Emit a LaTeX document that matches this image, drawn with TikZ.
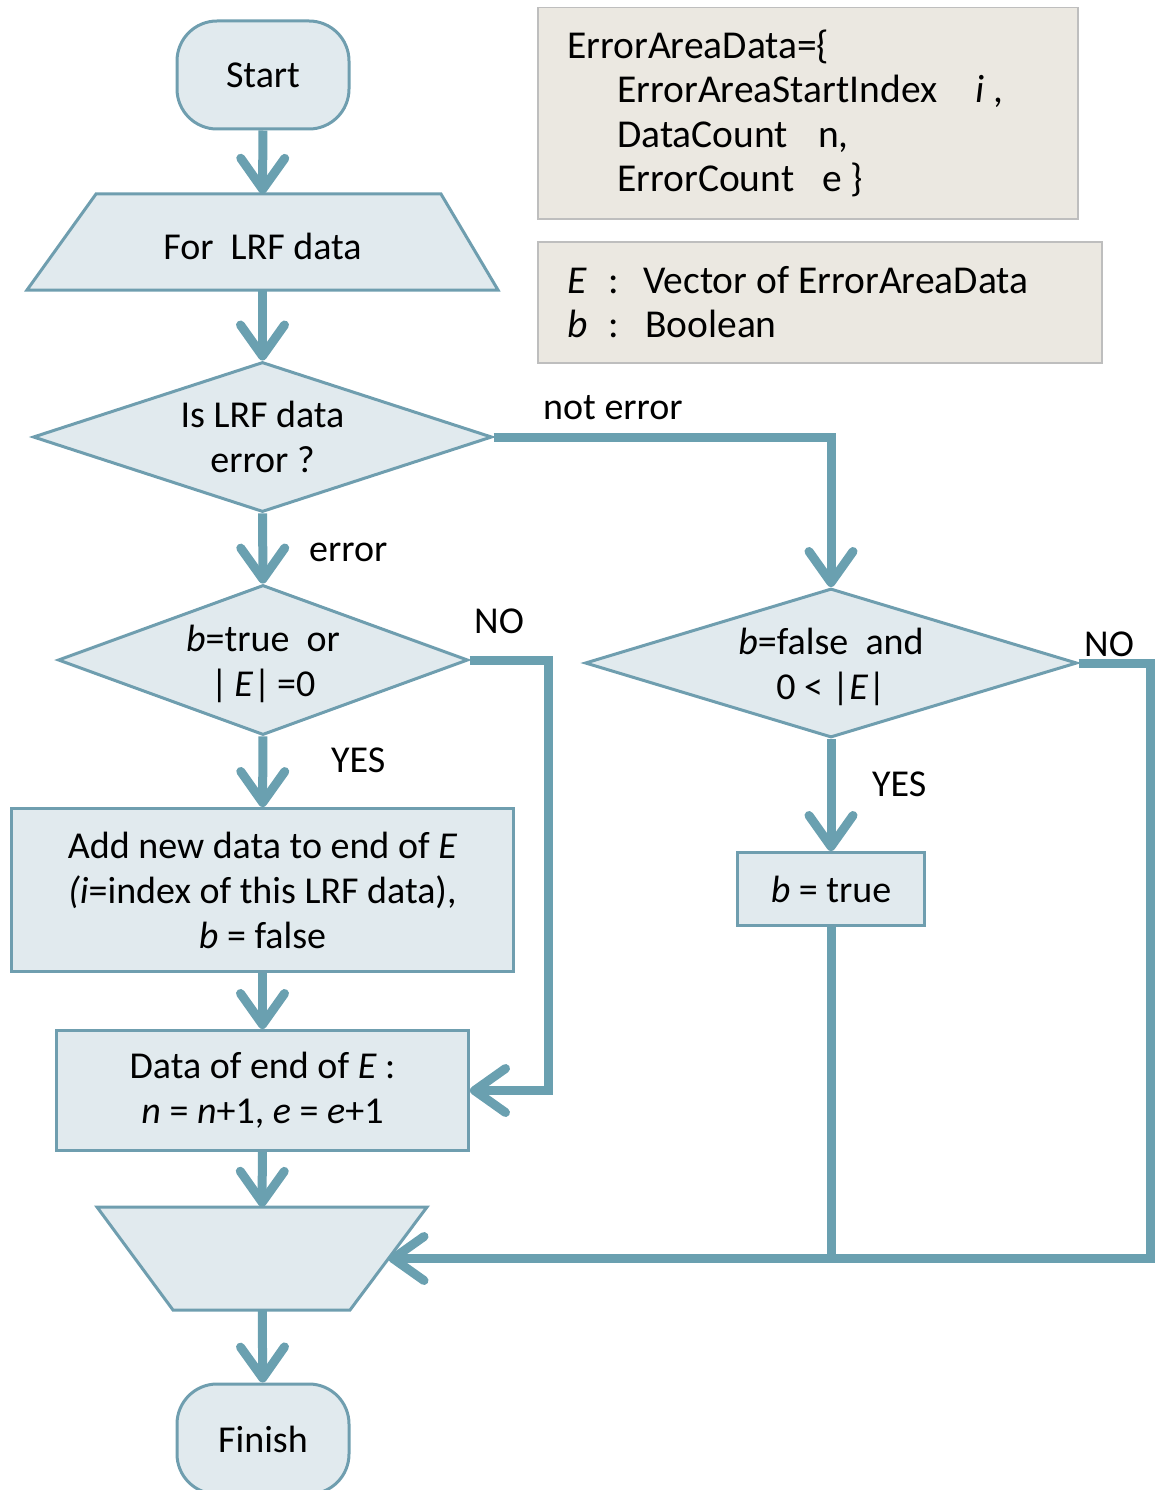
\documentclass[tikz,border=0pt]{standalone}
\usepackage{fontspec}
\setmainfont{Carlito}
\usetikzlibrary{arrows.meta,shapes.geometric}
\definecolor{lnk}{HTML}{6AA0B0}
\definecolor{nfill}{HTML}{E1EAEE}
\definecolor{nbord}{HTML}{6F9EAF}
\definecolor{ifill}{HTML}{EBE8E1}
\definecolor{ibord}{HTML}{BEBEBE}
\begin{document}
\begin{tikzpicture}[x=1pt,y=-1pt,
  font=\fontsize{38}{45}\selectfont,
  nd/.style={draw=nbord, fill=nfill, line width=3pt, align=center, inner sep=0pt},
  shp/.style={draw=nbord, fill=nfill, line width=3pt, line join=miter},
  ib/.style={draw=ibord, fill=ifill, line width=1.5pt, inner sep=0pt, anchor=north west},
  txt/.style={inner sep=0pt, align=center},
  lab/.style={inner sep=0pt, anchor=base west},
  itx/.style={lab, font=\fontsize{39.5}{45}\selectfont},
  conn/.style={draw=lnk, line width=9pt, -{Straight Barb[length=31pt,width=44pt,round]}},
  plain/.style={draw=lnk, line width=9pt}]
\path[use as bounding box, clip] (0,0) rectangle (1156,1490);

% info boxes
\node[ib, minimum width=540pt, minimum height=211pt] (info1) at (537,7) {};
\node[itx] (i1) at (567,59) {ErrorAreaData=\{};
\node[itx] (i2) at (617,103) {ErrorAreaStartIndex};
\node[itx] (i2b) at (975,103) {\textit{i} ,};
\node[itx] (i3) at (617,148) {DataCount};
\node[itx] (i3b) at (818,148) {n,};
\node[itx] (i4) at (617,192) {ErrorCount};
\node[itx] (i4b) at (822,192) {e \}};
\node[ib, minimum width=564pt, minimum height=121pt] (info2) at (537,241) {};
\node[itx] (j1) at (567,293) {\textit{E}};
\node[itx] (j1c) at (608,293) {:};
\node[itx] (j1t) at (643,293) {Vector of ErrorAreaData};
\node[itx] (j2) at (567,337) {\textit{b}};
\node[itx] (j2c) at (608,337) {:};
\node[itx] (j2t) at (645,337) {Boolean};

% trapezium outlines
\path[shp] (96,194) -- (441,194) -- (498,290) -- (27,290) -- cycle;
\path[shp] (97,1207) -- (427,1207) -- (350,1310) -- (173,1310) -- cycle;

% flow nodes
\node[nd, rounded corners=40pt, minimum width=172pt, minimum height=108pt] (start) at (263,75) {Start};
\node[txt, minimum width=471pt, minimum height=96pt] (for) at (262.5,242) {};
\node[txt] (fort) at (262.5,246) {For\ \ LRF data};
\node[nd, diamond, inner sep=2pt, minimum width=459pt, minimum height=150pt] (d1) at (262.5,437) {};
\node[txt] (d1t) at (d1.center) {Is LRF data\\error ?};
\node[nd, diamond, inner sep=2pt, minimum width=410pt, minimum height=150pt] (d2) at (263,660) {};
\node[txt] (d2t) at (263,664) {\textit{b}=true\ \ or\\|\,\textit{E}|\,=0};
\node[nd, minimum width=502pt, minimum height=163pt] (add) at (262.5,890) {Add new data to end of \textit{E}\\\textit{(i}=index of this LRF data),\\\textit{b} = false};
\node[nd, minimum width=412pt, minimum height=120pt] (data) at (262.5,1090.5) {Data of end of \textit{E} :\\\textit{n} = \textit{n}+1, \textit{e} = \textit{e}+1};
\node[txt, minimum width=330pt, minimum height=103pt] (tr2) at (262,1258.5) {};
\coordinate (tr2r) at (388.5,1258.5);
\node[nd, rounded corners=40pt, minimum width=172pt, minimum height=110pt] (fin) at (263,1439) {Finish};
\node[nd, diamond, inner sep=2pt, minimum width=492pt, minimum height=149pt] (d3) at (831,663) {};
\node[txt] (d3t) at (831,667) {\textit{b}=false\ \ and\\0 < |\textit{E}|};
\node[nd, minimum width=187pt, minimum height=73pt] (bt) at (831,889) {\textit{b} = true};

% coordinates
\coordinate (cL) at (548,660);
\coordinate (cR) at (1150,663);

% connectors
\draw[conn] (start) -- (for);
\draw[conn] (for) -- (d1);
\draw[conn] (d1) -- (d2);
\draw[conn] (d1.east) -| (d3.north);
\draw[conn] (d2) -- (add);
\draw[conn] (d2.east) -- (cL) |- (data.east);
\draw[conn] (add) -- (data);
\draw[conn] (data) -- (tr2);
\draw[conn] (tr2) -- (fin);
\draw[conn] (d3) -- (bt);
\draw[conn] (d3.east) -- (cR) |- (tr2r);
\draw[plain] (bt.south) -- (bt.south |- tr2r);

% labels
\node[lab] (lne) at (543,419) {not error};
\node[lab] (lerr) at (309,561) {error};
\node[lab] (lno1) at (474,633) {NO};
\node[lab] (lyes1) at (331,772) {YES};
\node[lab] (lno2) at (1084,656) {NO};
\node[lab] (lyes2) at (872,796) {YES};
\end{tikzpicture}
\end{document}
